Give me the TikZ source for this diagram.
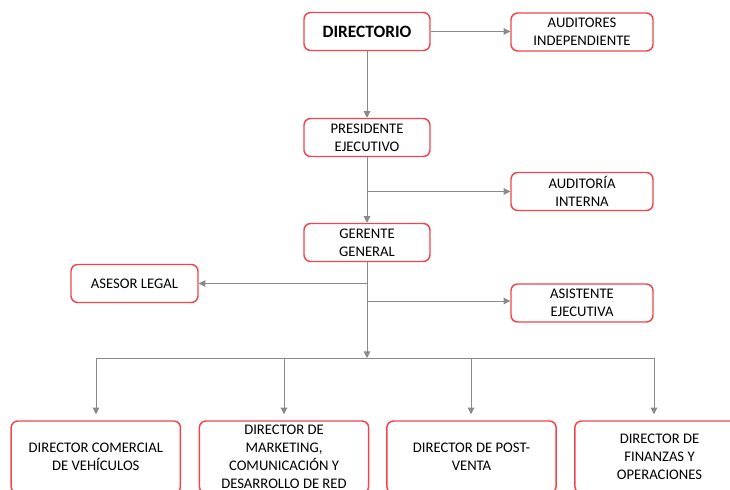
\documentclass[tikz,border=0pt]{standalone}
\usepackage{fontspec}
\setmainfont{Carlito}
\usetikzlibrary{arrows.meta}

\definecolor{rojo}{HTML}{F0454D}
\definecolor{gris}{HTML}{8A8A8A}

\tikzset{
  caja/.style={draw=rojo, line width=1.1pt, rounded corners=5pt, fill=white,
    align=center, font=\fontsize{11}{13.5}\selectfont,
    minimum width=94.5pt, minimum height=28.5pt, inner sep=2pt},
  cajaanc/.style={caja, minimum width=106.5pt},
  cajabaja/.style={caja, minimum width=127pt, minimum height=54pt, inner ysep=0pt},
  linea/.style={draw=gris, line width=0.7pt},
  flecha/.style={linea, -{Triangle[width=5pt,length=5pt]}}
}

\begin{document}
\begin{tikzpicture}[x=0.75pt,y=-0.75pt]
  \useasboundingbox (0,0) rectangle (730,489);
  \clip (0,0) rectangle (730,489);

  \node[caja, font=\bfseries\fontsize{13}{15}\selectfont] (dir) at (367,31.5) {DIRECTORIO};
  \node[cajaanc] (audind) at (582,32) {AUDITORES\\INDEPENDIENTE};
  \node[caja] (pres) at (367,137.5) {PRESIDENTE\\EJECUTIVO};
  \node[cajaanc] (audint) at (582,191.5) {AUDITORÍA\\INTERNA};
  \node[caja] (ger) at (367,242.5) {GERENTE\\GENERAL};
  \node[caja, minimum width=95.25pt] (ases) at (134.5,283.5) {ASESOR LEGAL};
  \node[cajaanc] (asis) at (582,303) {ASISTENTE\\EJECUTIVA};

  % fila de directores
  \node[cajabaja] (dcom) at (95.8,457) {DIRECTOR COMERCIAL\\DE VEHÍCULOS};
  \node[cajabaja] (dmkt) at (284,457) {DIRECTOR DE\\MARKETING,\\COMUNICACIÓN Y\\DESARROLLO DE RED};
  \node[cajabaja] (dpost) at (471.5,457) {DIRECTOR DE POST-\\VENTA};
  \node[cajabaja] (dfin) at (659.5,457) {DIRECTOR DE\\FINANZAS Y\\OPERACIONES};

  \draw[flecha] (dir.east) -- (audind.west |- dir.east);
  \draw[flecha] (dir.south) -- (pres.north);
  \draw[flecha] (pres.south) -- (ger.north);
  \draw[flecha] (pres.south |- audint.west) -- (audint.west);
  \draw[flecha] (ger.south |- ases.east) -- (ases.east);
  \draw[flecha] (ger.south |- 0,301) -- (asis.west |- 0,301);

  \coordinate (barra) at (367,358);
  \draw[flecha] (ger.south) -- (barra);
  \draw[linea] (96,358) -- (654,358);
  \foreach \x/\d in {96/dcom, 284/dmkt, 471/dpost, 654/dfin} {
    \coordinate (t\d) at ([yshift=4.5pt]\d.north);
    \draw[flecha] (\x,358) -- (\x,358 |- t\d);
  }
\end{tikzpicture}
\end{document}
